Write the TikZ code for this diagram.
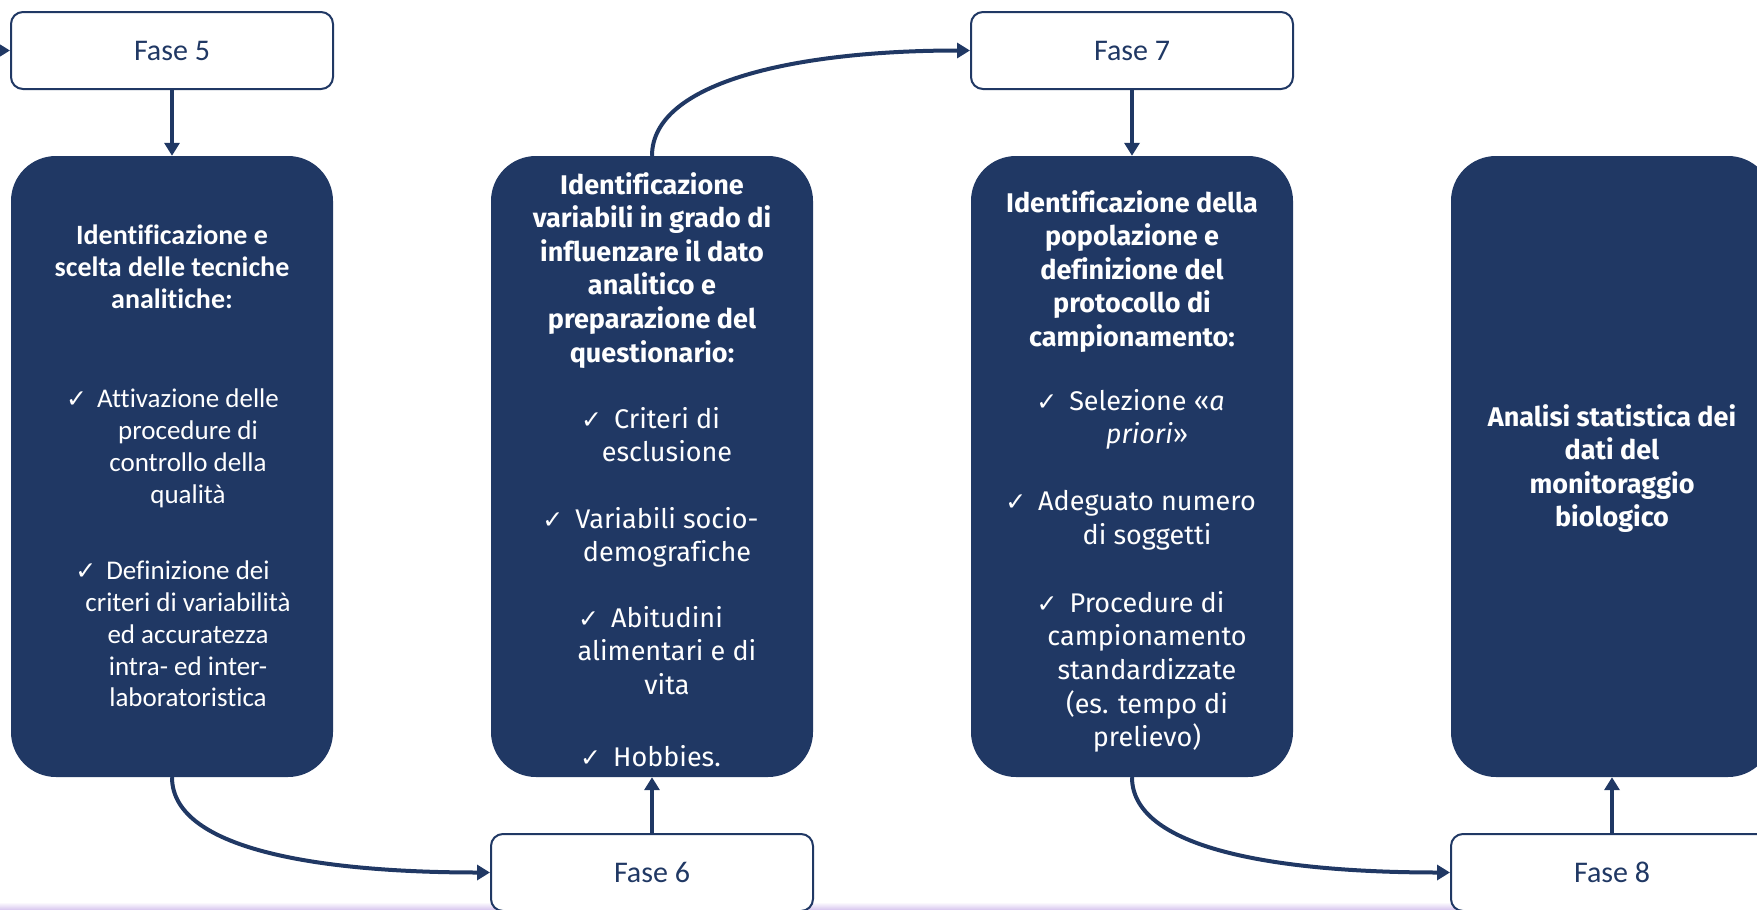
\documentclass[tikz,border=0pt]{standalone}
\usepackage{fontspec}
\setmainfont{Carlito}[Ligatures=NoCommon]
\newfontfamily\dinfont{Fira Sans}[Ligatures=NoCommon]
\newfontfamily\checkfont{DejaVu Sans}
\usetikzlibrary{arrows.meta}
\definecolor{navy}{RGB}{32,56,100}
\definecolor{lav}{RGB}{214,196,238}
\newcommand\mycheckA{\llap{{\checkfont\fontsize{25}{25}\selectfont ✓}\hspace{10pt}}}
\newcommand\mycheckB{\llap{{\checkfont\fontsize{25}{25}\selectfont ✓}\hspace{12pt}}}
\begin{document}
\begin{tikzpicture}[x=1pt,y=-1pt,
  fase/.style={draw=navy, line width=2pt, fill=white, rounded corners=12pt,
    minimum width=322pt, minimum height=77pt, inner sep=0pt,
    font=\fontsize{30}{36}\selectfont, text=navy},
  darkbox/.style={fill=navy, rounded corners=45pt, minimum width=322pt,
    minimum height=621pt, inner sep=0pt},
  calhead/.style={text=white, align=center, inner sep=0pt, anchor=north,
    font=\bfseries\fontsize{28}{31.7}\selectfont},
  calbul/.style={text=white, align=center, inner sep=0pt, anchor=north,
    font=\fontsize{27}{31.7}\selectfont},
  dinhead/.style={text=white, align=center, inner sep=0pt, anchor=north,
    font=\dinfont\bfseries\fontsize{27}{33.6}\selectfont},
  dinbul/.style={text=white, align=center, inner sep=0pt, anchor=north,
    font=\dinfont\fontsize{27}{33.6}\selectfont},
  conn/.style={draw=navy, line width=4pt, -{Triangle[length=13pt,width=15pt]}},
]
\useasboundingbox (0,0) rectangle (1757,910);
\clip (0,0) rectangle (1757,910);
\fill[white] (0,0) rectangle (1757,910);
\shade[top color=white, bottom color=lav] (0,902) rectangle (1757,910);

% phase boxes
\node[fase] (fase5) at (172,50.5) {Fase 5};
\node[fase] (fase6) at (652,872.5) {Fase 6};
\node[fase] (fase7) at (1132,50.5) {Fase 7};
\node[fase] (fase8) at (1612,872.5) {Fase 8};

% dark boxes
\node[darkbox] (box1) at (172,466.5) {};
\node[darkbox] (box2) at (652,466.5) {};
\node[darkbox] (box3) at (1132,466.5) {};
\node[darkbox] (box4) at (1612,466.5) {};

% box 1 texts
\node[calhead] (h1) at (172,225) {Identificazione e\\scelta delle tecniche\\analitiche:};
\node[calbul] (b1a) at (188,389) {\mycheckA Attivazione delle\\procedure di\\controllo della\\qualità};
\node[calbul] (b1b) at (188,561) {\mycheckA Definizione dei\\criteri di variabilità\\ed accuratezza\\intra- ed inter-\\laboratoristica};

% box 2 texts
\node[dinhead] (h2) at (652,172) {Identificazione\\variabili in grado di\\influenzare il dato\\analitico e\\preparazione del\\questionario:};
\node[dinbul] (b2a) at (667,407) {\mycheckB Criteri di\\esclusione};
\node[dinbul] (b2b) at (667,507) {\mycheckB Variabili socio-\\demografiche};
\node[dinbul] (b2c) at (667,606) {\mycheckB Abitudini\\alimentari e di\\vita};
\node[dinbul] (b2d) at (667,745) {\mycheckB Hobbies.};

% box 3 texts
\node[dinhead] (h3) at (1132,190) {Identificazione della\\popolazione e\\definizione del\\protocollo di\\campionamento:};
\node[dinbul] (b3a) at (1147,389) {\mycheckB Selezione «\textit{a}\\\textit{priori}»};
\node[dinbul] (b3b) at (1147,490) {\mycheckB Adeguato numero\\di soggetti};
\node[dinbul] (b3c) at (1147,591) {\mycheckB Procedure di\\campionamento\\standardizzate\\(es. tempo di\\prelievo)};

% box 4 text
\node[dinhead] (h4) at (1612,404) {Analisi statistica dei\\dati del\\monitoraggio\\biologico};

% connectors
\coordinate (in5) at (-30,50.5);
\draw[conn] (in5) -- (fase5.west);
\draw[conn] (fase5.south) -- (box1.north);
\draw[conn] (box1.south) .. controls +(0,75) and +(-160,0) .. (fase6.west);
\draw[conn] (fase6.north) -- (box2.south);
\draw[conn] (box2.north) .. controls +(0,-75) and +(-170,0) .. (fase7.west);
\draw[conn] (fase7.south) -- (box3.north);
\draw[conn] (box3.south) .. controls +(0,75) and +(-160,0) .. (fase8.west);
\draw[conn] (fase8.north) -- (box4.south);
\end{tikzpicture}
\end{document}
